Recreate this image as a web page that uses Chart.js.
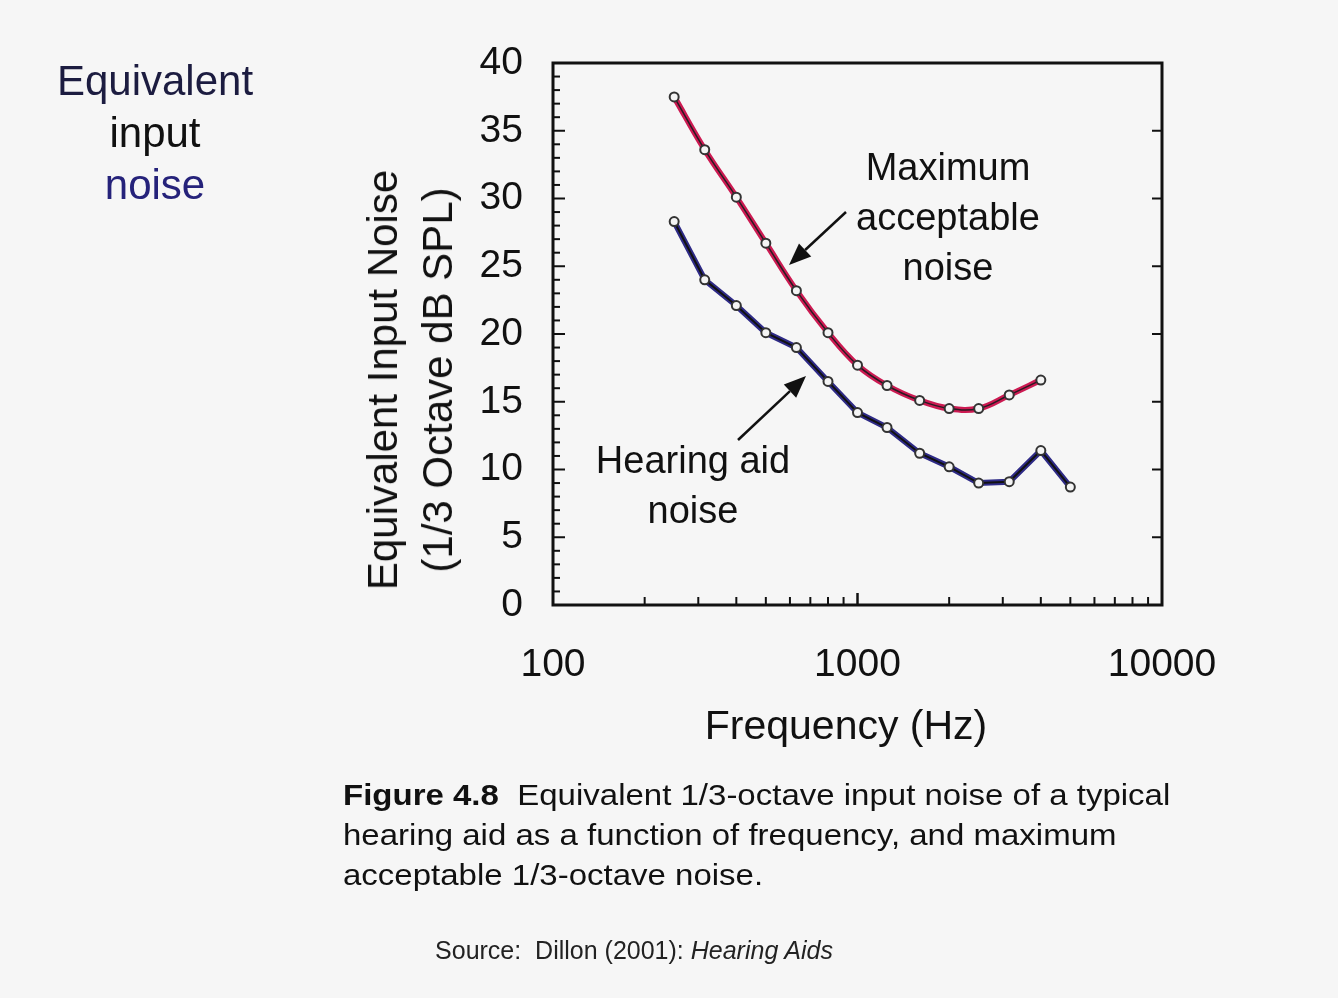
<!DOCTYPE html>
<html>
<head>
<meta charset="utf-8">
<script src="https://cdn.jsdelivr.net/npm/chart.js@4.4.1/dist/chart.umd.min.js"></script>
<style>
  html, body { margin:0; padding:0; background:#f6f6f6; }
  body { width:1338px; height:998px; position:relative; overflow:hidden; font-family:"Liberation Sans", Arial, sans-serif; }
  #c { position:absolute; left:0; top:0; }
  .t { position:absolute; transform:translate(-50%,-50%); white-space:nowrap; color:#111; }
  .ann { font-size:38px; text-align:center; line-height:50px; }
  .side { font-size:42px; line-height:52px; text-align:center; }
  .ytitle { font-size:42px; line-height:55px; text-align:center; transform:translate(-50%,-50%) rotate(-90deg); }
  .xtitle { font-size:41px; }
  .cap { position:absolute; left:343px; top:775px; font-size:30px; line-height:40px; color:#111; white-space:nowrap;
         transform-origin:0 0; transform:scaleX(1.1); }
  .src { font-size:25px; color:#222; }
</style>
</head>
<body>
<canvas id="c" width="1338" height="998"></canvas>

<div class="t side" style="left:155px; top:133px;">
  <span style="color:#1c1c40">Equivalent</span><br>
  <span style="color:#111">input</span><br>
  <span style="color:#25227a">noise</span>
</div>

<div class="t ytitle" style="left:410px; top:380px;">Equivalent Input Noise<br>(1/3 Octave dB SPL)</div>
<div class="t xtitle" style="left:846px; top:725px;">Frequency (Hz)</div>

<div class="t ann" style="left:948px; top:217px;">Maximum<br>acceptable<br>noise</div>
<div class="t ann" style="left:693px; top:485px;">Hearing aid<br>noise</div>

<div class="cap"><b>Figure 4.8</b>&nbsp; Equivalent 1/3-octave input noise of a typical<br>hearing aid as a function of frequency, and maximum<br>acceptable 1/3-octave noise.</div>
<div class="t src" style="left:634px; top:950px;">Source:&nbsp; Dillon (2001): <i>Hearing Aids</i></div>

<script>
// ---- data ----
const maxFreqs = [250, 315, 400, 500, 630, 800, 1000, 1250, 1600, 2000, 2500, 3150, 4000];
const maxNoise = [37.5, 33.6, 30.1, 26.7, 23.2, 20.1, 17.7, 16.2, 15.1, 14.5, 14.5, 15.5, 16.6];
const aidFreqs = [250, 315, 400, 500, 630, 800, 1000, 1250, 1600, 2000, 2500, 3150, 4000, 5000];
const aidNoise = [28.3, 24.0, 22.1, 20.1, 19.0, 16.5, 14.2, 13.1, 11.2, 10.2, 9.0, 9.1, 11.4, 8.7];
const xTickLabels = [100, 1000, 10000];
const yTickLabels = [0, 5, 10, 15, 20, 25, 30, 35, 40];

const maxPts = maxFreqs.map((f, i) => ({ x: f, y: maxNoise[i] }));
const aidPts = aidFreqs.map((f, i) => ({ x: f, y: aidNoise[i] }));

const framePlugin = {
  id: 'frame',
  afterDraw(chart) {
    const { ctx, chartArea: a, scales: { x, y } } = chart;
    ctx.save();
    ctx.strokeStyle = '#111';
    ctx.fillStyle = '#111';
    ctx.lineWidth = 2;
    for (let v = 0; v <= 40; v += 1) {
      const py = y.getPixelForValue(v);
      const len = v % 5 === 0 ? 12 : 7;
      ctx.beginPath(); ctx.moveTo(a.left, py); ctx.lineTo(a.left + len, py); ctx.stroke();
      if (v % 5 === 0) { ctx.beginPath(); ctx.moveTo(a.right, py); ctx.lineTo(a.right - 10, py); ctx.stroke(); }
    }
    for (let d = 100; d < 10000; d *= 10) {
      for (let m = 1; m <= 10; m++) {
        const px = x.getPixelForValue(d * m);
        const len = m === 1 || m === 10 ? 12 : 8;
        ctx.beginPath(); ctx.moveTo(px, a.bottom); ctx.lineTo(px, a.bottom - len); ctx.stroke();
      }
    }
    ctx.lineWidth = 3;
    ctx.strokeRect(a.left, a.top, a.right - a.left, a.bottom - a.top);

    function arrow(x1, y1, x2, y2) {
      const ang = Math.atan2(y2 - y1, x2 - x1);
      const hl = 22, hw = 9;
      const bx = x2 - hl * Math.cos(ang), by = y2 - hl * Math.sin(ang);
      ctx.lineWidth = 2.5;
      ctx.beginPath(); ctx.moveTo(x1, y1); ctx.lineTo(bx, by); ctx.stroke();
      ctx.beginPath();
      ctx.moveTo(x2, y2);
      ctx.lineTo(bx + hw * Math.sin(ang), by - hw * Math.cos(ang));
      ctx.lineTo(bx - hw * Math.sin(ang), by + hw * Math.cos(ang));
      ctx.closePath(); ctx.fill();
    }
    arrow(846, 212, 789, 265);
    arrow(738, 440, 806, 376);
    ctx.restore();
  }
};

new Chart(document.getElementById('c'), {
  type: 'line',
  data: {
    datasets: [
      { data: maxPts, borderColor: '#cc1a52', borderWidth: 6, tension: 0.4, pointRadius: 0, order: 4 },
      { data: maxPts, borderColor: '#2a1a22', borderWidth: 1.5, tension: 0.4, pointRadius: 4.5,
        pointBackgroundColor: '#f4f4f4', pointBorderColor: '#333', pointBorderWidth: 2, order: 3 },
      { data: aidPts, borderColor: '#2e2a86', borderWidth: 6, tension: 0, pointRadius: 0, order: 2 },
      { data: aidPts, borderColor: '#111', borderWidth: 2, tension: 0, pointRadius: 4.5,
        pointBackgroundColor: '#f4f4f4', pointBorderColor: '#333', pointBorderWidth: 2, order: 1 }
    ]
  },
  options: {
    responsive: false,
    animation: false,
    devicePixelRatio: 1,
    layout: { padding: { left: 340, top: 63, right: 176, bottom: 243 } },
    plugins: { legend: { display: false }, tooltip: { enabled: false } },
    scales: {
      x: {
        type: 'logarithmic', min: 100, max: 10000,
        grid: { display: false, drawTicks: false }, border: { display: false },
        afterBuildTicks: s => { s.ticks = xTickLabels.map(v => ({ value: v })); },
        afterFit: s => { s.height = 150; },
        ticks: { color: '#111', padding: 37, font: { family: 'Liberation Sans', size: 39 }, maxRotation: 0, autoSkip: false,
                 callback: v => String(v) },
        title: { display: false }
      },
      y: {
        min: 0, max: 40,
        grid: { display: false, drawTicks: false }, border: { display: false },
        afterBuildTicks: s => { s.ticks = yTickLabels.map(v => ({ value: v })); },
        afterFit: s => { s.width = 213; },
        ticks: { color: '#111', padding: 30, font: { family: 'Liberation Sans', size: 39 } },
        title: { display: false }
      }
    }
  },
  plugins: [framePlugin]
});
</script>
</body>
</html>
